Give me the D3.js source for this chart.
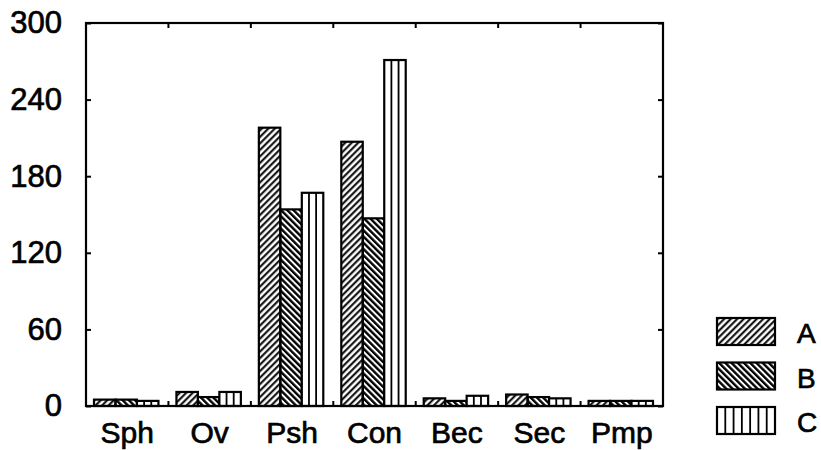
<!DOCTYPE html>
<html>
<head>
<meta charset="utf-8">
<script src="https://cdn.jsdelivr.net/npm/d3@7"></script>
<style>
  body { margin: 0; background: #fff; }
  svg { display: block; font-family: "Liberation Sans", Arial, sans-serif; }
  text { stroke: #000; stroke-width: 0.7px; }
</style>
</head>
<body>
<svg width="821" height="450"></svg>
<script>
// values
var categories = ["Sph", "Ov", "Psh", "Con", "Bec", "Sec", "Pmp"];
var seriesNames = ["A", "B", "C"];
var valuesA = [5, 11, 218, 207, 6, 9, 4];
var valuesB = [5, 7, 154, 147, 4, 7, 4];
var valuesC = [4, 11, 167, 271, 8, 6, 4];
var yTicks = [0, 60, 120, 180, 240, 300];

var series = [valuesA, valuesB, valuesC];

var svg = d3.select("svg");
var margin = { top: 23, left: 86 },
    width = 577, height = 383;

var defs = svg.append("defs");
// A: forward hatch, B: back hatch
defs.append("pattern")
    .attr("id", "patA").attr("patternUnits", "userSpaceOnUse")
    .attr("width", 4.6).attr("height", 4.6)
    .attr("patternTransform", "rotate(45)")
  .append("line")
    .attr("x1", 1.2).attr("x2", 1.2).attr("y1", 0).attr("y2", 4.6)
    .attr("stroke", "#000").attr("stroke-width", 2);
defs.append("pattern")
    .attr("id", "patB").attr("patternUnits", "userSpaceOnUse")
    .attr("width", 4.4).attr("height", 4.4)
    .attr("patternTransform", "rotate(-45)")
  .append("line")
    .attr("x1", 1.2).attr("x2", 1.2).attr("y1", 0).attr("y2", 4.4)
    .attr("stroke", "#000").attr("stroke-width", 2.4);

var fills = ["url(#patA)", "url(#patB)", "#fff"];

var g = svg.append("g").attr("transform", "translate(" + margin.left + "," + margin.top + ")");

var x = d3.scaleBand().domain(categories).range([0, width]).paddingInner(0).paddingOuter(0);
var inner = d3.scaleBand().domain(d3.range(3)).range([8, x.bandwidth() - 10]);
var y = d3.scaleLinear().domain([0, 300]).range([height, 0]);

// bars
series.forEach(function(vals, s) {
    var sg = g.append("g");
    sg.selectAll("rect")
        .data(vals)
        .enter().append("rect")
        .attr("x", function(d, i) { return x(categories[i]) + inner(s); })
        .attr("y", function(d) { return y(d); })
        .attr("width", inner.bandwidth())
        .attr("height", function(d) { return y(0) - y(d); })
        .attr("fill", fills[s])
        .attr("stroke", "#000")
        .attr("stroke-width", 2.2);
    if (s == 2) {
        // vertical stripes inside C bars
        [1, 2].forEach(function(k) {
            sg.selectAll(".v" + k)
                .data(vals)
                .enter().append("line")
                .attr("x1", function(d, i) { return x(categories[i]) + inner(s) + inner.bandwidth() * k / 3; })
                .attr("x2", function(d, i) { return x(categories[i]) + inner(s) + inner.bandwidth() * k / 3; })
                .attr("y1", function(d) { return y(d); })
                .attr("y2", y(0))
                .attr("stroke", "#000")
                .attr("stroke-width", 1.8);
        });
    }
});

// frame
g.append("rect")
    .attr("width", width).attr("height", height)
    .attr("fill", "none").attr("stroke", "#000").attr("stroke-width", 2.2);

// y axis ticks on both sides, pointing inward
g.append("g")
    .call(d3.axisLeft(y).tickValues(yTicks).tickSize(-5).tickPadding(24))
    .call(function(a) { a.select(".domain").remove(); })
    .attr("font-size", 31)
    .attr("font-family", "Liberation Sans, Arial, sans-serif")
    .selectAll("line").attr("stroke-width", 2);

g.append("g")
    .attr("transform", "translate(" + width + ",0)")
    .call(d3.axisRight(y).tickValues(yTicks).tickSize(-5).tickFormat(""))
    .call(function(a) { a.select(".domain").remove(); })
    .selectAll("line").attr("stroke-width", 2);

// category boundaries as ticks top and bottom
var bounds = categories.slice(1).map(function(c) { return x(c); });
g.selectAll(".tb").data(bounds).enter().append("line")
    .attr("x1", function(d) { return d; }).attr("x2", function(d) { return d; })
    .attr("y1", height).attr("y2", height - 5)
    .attr("stroke", "#000").attr("stroke-width", 2);
g.selectAll(".tt").data(bounds).enter().append("line")
    .attr("x1", function(d) { return d; }).attr("x2", function(d) { return d; })
    .attr("y1", 0).attr("y2", 5)
    .attr("stroke", "#000").attr("stroke-width", 2);

// x labels
g.append("g")
    .attr("transform", "translate(0," + height + ")")
    .call(d3.axisBottom(x).tickSize(0).tickPadding(16))
    .call(function(a) { a.select(".domain").remove(); })
    .attr("font-size", 30)
    .attr("font-family", "Liberation Sans, Arial, sans-serif");

// legend
var legend = svg.append("g").attr("transform", "translate(717,318)");
var items = legend.selectAll("g").data(seriesNames).enter().append("g")
    .attr("transform", function(d, i) { return "translate(0," + (i * 44.5) + ")"; });
items.append("rect")
    .attr("width", 58).attr("height", 27)
    .attr("fill", function(d, i) { return fills[i]; })
    .attr("stroke", "#000").attr("stroke-width", 2.2);
items.filter(function(d, i) { return i == 2; })
    .selectAll("line").data(d3.range(1, 7)).enter().append("line")
    .attr("x1", function(k) { return k * 58 / 7; }).attr("x2", function(k) { return k * 58 / 7; })
    .attr("y1", 0).attr("y2", 27)
    .attr("stroke", "#000").attr("stroke-width", 1.8);
items.append("text")
    .attr("x", 80).attr("y", 25)
    .attr("font-size", 28)
    .text(function(d) { return d; });
</script>
</body>
</html>
